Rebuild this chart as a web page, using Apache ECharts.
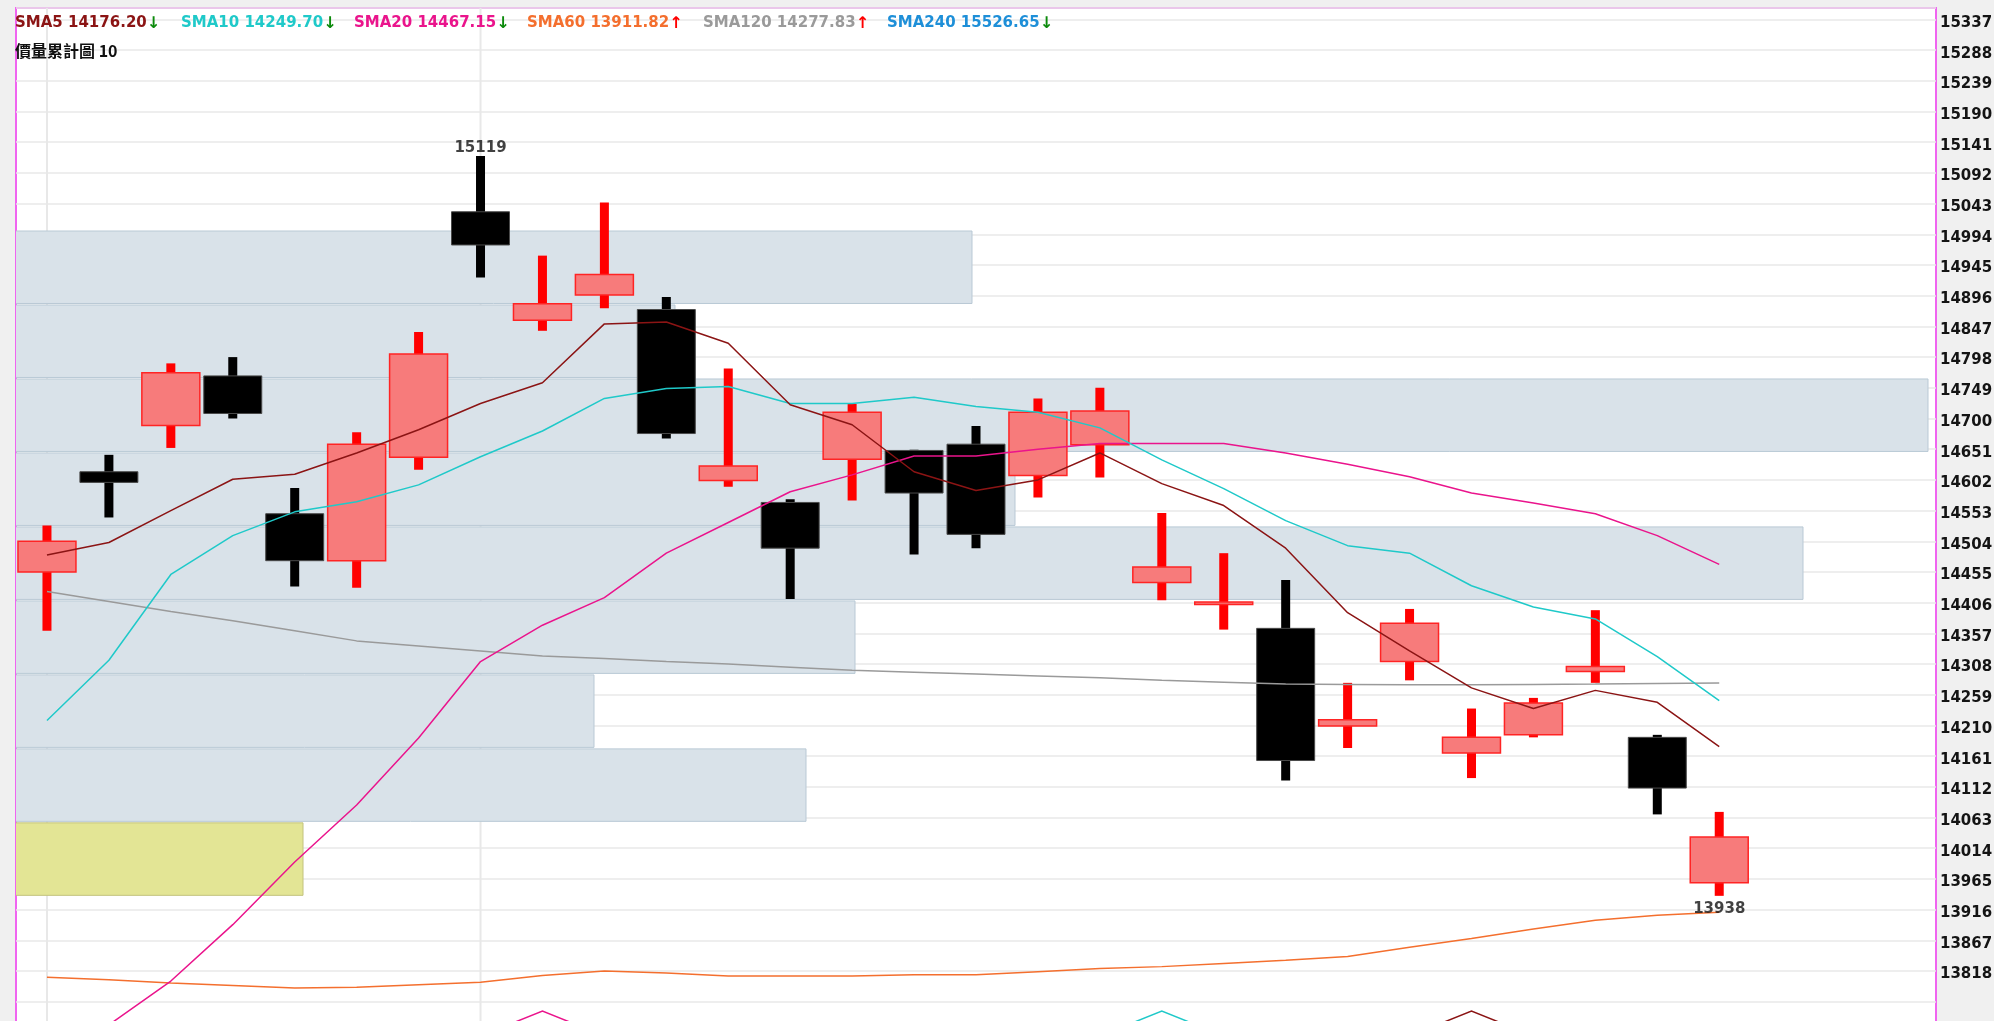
<!DOCTYPE html>
<html>
<head>
<meta charset="utf-8">
<script src="https://cdn.jsdelivr.net/npm/echarts@6/dist/echarts.min.js"></script>
<style>
html,body{margin:0;padding:0;background:#f0f0f0;}
#chart{width:1994px;height:1021px;}
</style>
</head>
<body>
<div id="chart"></div>
<script>
// ---------------- data ----------------
const categories = ['D01','D02','D03','D04','D05','D06','D07','D08','D09','D10','D11','D12','D13','D14',
                    'D15','D16','D17','D18','D19','D20','D21','D22','D23','D24','D25','D26','D27','D28'];
const emptySlots = 3; // free space right of the last candle
const openPrices  = [14455,14615,14689,14768,14548,14473,14638,15030,14857,14897,14874,14601,14566,14635,14649,14659,14609,14658,14438,14403,14365,14209,14312,14166,14195,14296,14191,13959];
const closePrices = [14504,14598,14773,14708,14473,14659,14803,14977,14883,14930,14676,14624,14493,14710,14581,14515,14710,14712,14463,14407,14154,14219,14373,14191,14246,14304,14110,14032];
const highPrices  = [14529,14642,14788,14798,14589,14678,14838,15119,14960,15045,14894,14780,14571,14723,14650,14688,14732,14749,14549,14485,14442,14278,14396,14237,14254,14394,14195,14072];
const lowPrices   = [14361,14542,14653,14700,14432,14430,14618,14925,14840,14876,14668,14591,14412,14569,14483,14493,14574,14606,14410,14363,14122,14174,14282,14126,14191,14278,14068,13938];

const sma5   = [14482,14502,14553,14603,14611,14645,14682,14724,14757,14851,14854,14820,14722,14690,14615,14585,14602,14645,14596,14561,14493,14390,14329,14270,14237,14266,14247,14176.20];
const sma10  = [14218,14314,14451,14513,14551,14567,14594,14639,14680,14732,14748,14751,14724,14724,14734,14719,14710,14685,14634,14588,14537,14497,14485,14433,14399,14380,14320,14249.70];
const sma20  = [13660,13732,13802,13892,13992,14083,14190,14312,14370,14414,14485,14534,14583,14610,14640,14640,14651,14660,14660,14660,14645,14627,14607,14581,14565,14548,14513,14467.15];
const sma60  = [13808,13804,13799,13795,13791,13792,13796,13800,13811,13818,13815,13810,13810,13810,13812,13812,13817,13822,13825,13830,13835,13841,13856,13870,13885,13899,13907,13911.82];
const sma120 = [14424,14408,14392,14377,14361,14345,14337,14329,14321,14317,14312,14308,14303,14298,14295,14292,14289,14286,14282,14279,14276,14275.5,14275,14275,14275.5,14276,14277,14277.83];

const legendItems = [
  {name:'SMA5',   value:'14176.20', dir:'down', color:'#8b1414'},
  {name:'SMA10',  value:'14249.70', dir:'down', color:'#1fc9c9'},
  {name:'SMA20',  value:'14467.15', dir:'down', color:'#ea148c'},
  {name:'SMA60',  value:'13911.82', dir:'up',   color:'#f46f2e'},
  {name:'SMA120', value:'14277.83', dir:'up',   color:'#9a9a9a'},
  {name:'SMA240', value:'15526.65', dir:'down', color:'#1e8fd8'}
];
const profileTitle = '價量累計圖 10';

// volume profile (價量累計圖): 10 equal price bins between the period low and high, bottom -> top
const profileLow = 13938, profileHigh = 15119, profileBins = 10;
const profileVolume = [287, 790, 578, 839, 1787, 999, 1912, 659, 956, 0];
const profileScaleMax = 1920;

// vertical separators (month starts) and signal markers at the bottom
const monthStartIdx = [0, 7];
const signalIdx    = [8, 18, 23];
const signalSeries = ['SMA20', 'SMA10', 'SMA5'];
const signalLevel  = 13754;

// y axis ticks
const yMin = 13720, yMax = 15355.3, yStep = 49, yLabelLow = 13818, yLabelHigh = 15337;

// ---------------- chart ----------------
const colorOf = {}; legendItems.forEach(l => colorOf[l.name] = l.color);
const xCats = categories.concat(Array.from({length: emptySlots}, (_, i) => 'E' + (i + 1)));

const candleData = categories.map((c, i) => [i, openPrices[i], closePrices[i], lowPrices[i], highPrices[i]]);
const lastClose = closePrices[closePrices.length - 1];
const binStep = (profileHigh - profileLow) / profileBins;
const profileData = profileVolume.map((v, k) => [v, profileLow + k * binStep, profileLow + (k + 1) * binStep, k]);

let maxIdx = 0, minIdx = 0;
highPrices.forEach((v, i) => { if (v > highPrices[maxIdx]) maxIdx = i; });
lowPrices.forEach((v, i) => { if (v < lowPrices[minIdx]) minIdx = i; });

const titleFont = 'DejaVu Sans';
const legendX = [15, 181, 354, 527, 703, 887];
const titles = legendItems.map((l, i) => ({
  left: legendX[i], top: 14.5, padding: 0,
  text: '{n|' + l.name + ' ' + l.value + '}{a|' + (l.dir === 'down' ? '↓' : '↑') + '}',
  textStyle: {
    rich: {
      n: {color: l.color, fontFamily: titleFont, fontWeight: 'bold', fontSize: 15, lineHeight: 18},
      a: {color: l.dir === 'down' ? '#0b8a0b' : '#ff0000', fontFamily: titleFont, fontWeight: 'bold', fontSize: 16, lineHeight: 18}
    }
  }
}));
titles.push({
  left: 15, top: 42, padding: 0, text: profileTitle,
  textStyle: {color: '#111', fontFamily: '"Noto Sans CJK TC", "DejaVu Sans"', fontWeight: 'bold', fontSize: 16, lineHeight: 18}
});

const chart = echarts.init(document.getElementById('chart'), null, {renderer: 'canvas'});
const option = {
  animation: false,
  backgroundColor: '#f0f0f0',
  title: titles,
  grid: {left: 16, right: 58, top: 8, bottom: -11.4, outerBoundsMode: 'none', containLabel: false,
         show: true, backgroundColor: '#ffffff', borderColor: '#f064f0', borderWidth: 2},
  xAxis: [
    {type: 'category', data: xCats, boundaryGap: true, gridIndex: 0,
     axisLine: {show: false}, axisTick: {show: false}, axisLabel: {show: false}, splitLine: {show: false}},
    {type: 'value', gridIndex: 0, min: 0, max: profileScaleMax, show: false}
  ],
  yAxis: {
    type: 'value', position: 'right', min: yMin, max: yMax, interval: yStep,
    axisLine: {show: false}, axisTick: {show: false},
    axisLabel: {
      margin: 4, verticalAlign: 'middle',
      formatter: v => (v >= yLabelLow && v <= yLabelHigh) ? '{v|' + Math.round(v) + '}' : '',
      rich: {v: {fontFamily: 'DejaVu Sans', fontWeight: 'bold', fontSize: 15, color: '#141414', lineHeight: 18, padding: [7, 0, 0, 0]}}
    },
    splitLine: {lineStyle: {color: '#e8e8e8', width: 1.5}}
  },
  series: [
    { // month separators
      type: 'custom', z: 1, silent: true,
      data: monthStartIdx.map(i => [i, yMin]), encode: {x: 0, y: 1},
      renderItem: function (params, api) {
        const p = api.coord([api.value(0), api.value(1)]);
        const cs = params.coordSys;
        return {type: 'line', shape: {x1: p[0], y1: cs.y, x2: p[0], y2: cs.y + cs.height},
                style: {stroke: '#e8e8e8', lineWidth: 2}};
      }
    },
    { // volume profile boxes
      type: 'custom', xAxisIndex: 1, yAxisIndex: 0, z: 2, silent: true, clip: true,
      data: profileData, encode: {x: 0, y: [1, 2]},
      renderItem: function (params, api) {
        const vol = api.value(0), lo = api.value(1), hi = api.value(2);
        if (vol <= 0) return null;
        const p1 = api.coord([0, hi]);
        const p2 = api.coord([vol, lo]);
        const hl = lastClose >= lo && lastClose < hi;
        return {
          type: 'rect',
          shape: {x: p1[0] - 2, y: p1[1] + 1, width: p2[0] - p1[0] + 2, height: p2[1] - p1[1] - 1.5},
          style: {fill: hl ? '#e3e595' : '#d9e2e9', stroke: hl ? '#c2c27c' : '#b9c9d5', lineWidth: 1}
        };
      }
    },
    { // candles
      type: 'custom', z: 3, silent: true,
      data: candleData, encode: {x: 0, y: [1, 2, 3, 4]},
      renderItem: function (params, api) {
        const i = api.value(0), o = api.value(1), c = api.value(2), l = api.value(3), h = api.value(4);
        const po = api.coord([i, o]), pc = api.coord([i, c]), pl = api.coord([i, l]), ph = api.coord([i, h]);
        const bw = api.size([1, 0])[0] * 0.936;
        const ww = 9;
        const up = c >= o;
        const top = Math.min(po[1], pc[1]), bot = Math.max(po[1], pc[1]);
        const bh = Math.max(bot - top, 2.5);
        return {
          type: 'group',
          children: [
            {type: 'rect', shape: {x: po[0] - ww / 2, y: ph[1], width: ww, height: pl[1] - ph[1]},
             style: {fill: up ? '#ff0000' : '#000000'}},
            {type: 'rect', shape: {x: po[0] - bw / 2, y: top, width: bw, height: bh},
             style: {fill: up ? '#f77b7b' : '#000000', stroke: up ? '#ff2424' : '#4a4a4a', lineWidth: up ? 1.5 : 1}}
          ]
        };
      }
    },
    {name: 'SMA120', type: 'line', data: sma120, z: 4, showSymbol: false, silent: true, lineStyle: {color: colorOf['SMA120'], width: 1.5}},
    {name: 'SMA60',  type: 'line', data: sma60,  z: 4, showSymbol: false, silent: true, lineStyle: {color: colorOf['SMA60'], width: 1.5}},
    {name: 'SMA20',  type: 'line', data: sma20,  z: 4, showSymbol: false, silent: true, lineStyle: {color: colorOf['SMA20'], width: 1.5}},
    {name: 'SMA10',  type: 'line', data: sma10,  z: 4, showSymbol: false, silent: true, lineStyle: {color: colorOf['SMA10'], width: 1.5}},
    {name: 'SMA5',   type: 'line', data: sma5,   z: 4, showSymbol: false, silent: true, lineStyle: {color: colorOf['SMA5'], width: 1.5}},
    { // period high / low labels
      type: 'scatter', z: 6, silent: true, symbolSize: 0,
      data: [
        {value: [maxIdx, highPrices[maxIdx]], label: {position: 'top', distance: 0}},
        {value: [minIdx, lowPrices[minIdx]], label: {position: 'bottom', distance: 6}}
      ],
      label: {show: true, formatter: p => String(p.value[1]), fontFamily: 'DejaVu Sans', fontWeight: 'bold', fontSize: 15, color: '#111'}
    },
    { // signal chevrons at the bottom
      type: 'custom', z: 5, silent: true,
      data: signalIdx.map((i, k) => [i, signalLevel, k]), encode: {x: 0, y: 1},
      renderItem: function (params, api) {
        const p = api.coord([api.value(0), api.value(1)]);
        const col = colorOf[signalSeries[api.value(2)]];
        return {type: 'polyline', shape: {points: [[p[0] - 30, p[1] + 12], [p[0], p[1]], [p[0] + 30, p[1] + 12]]},
                style: {stroke: col, lineWidth: 1.5, fill: null}};
      }
    }
  ]
};
chart.setOption(option);
</script>
</body>
</html>
